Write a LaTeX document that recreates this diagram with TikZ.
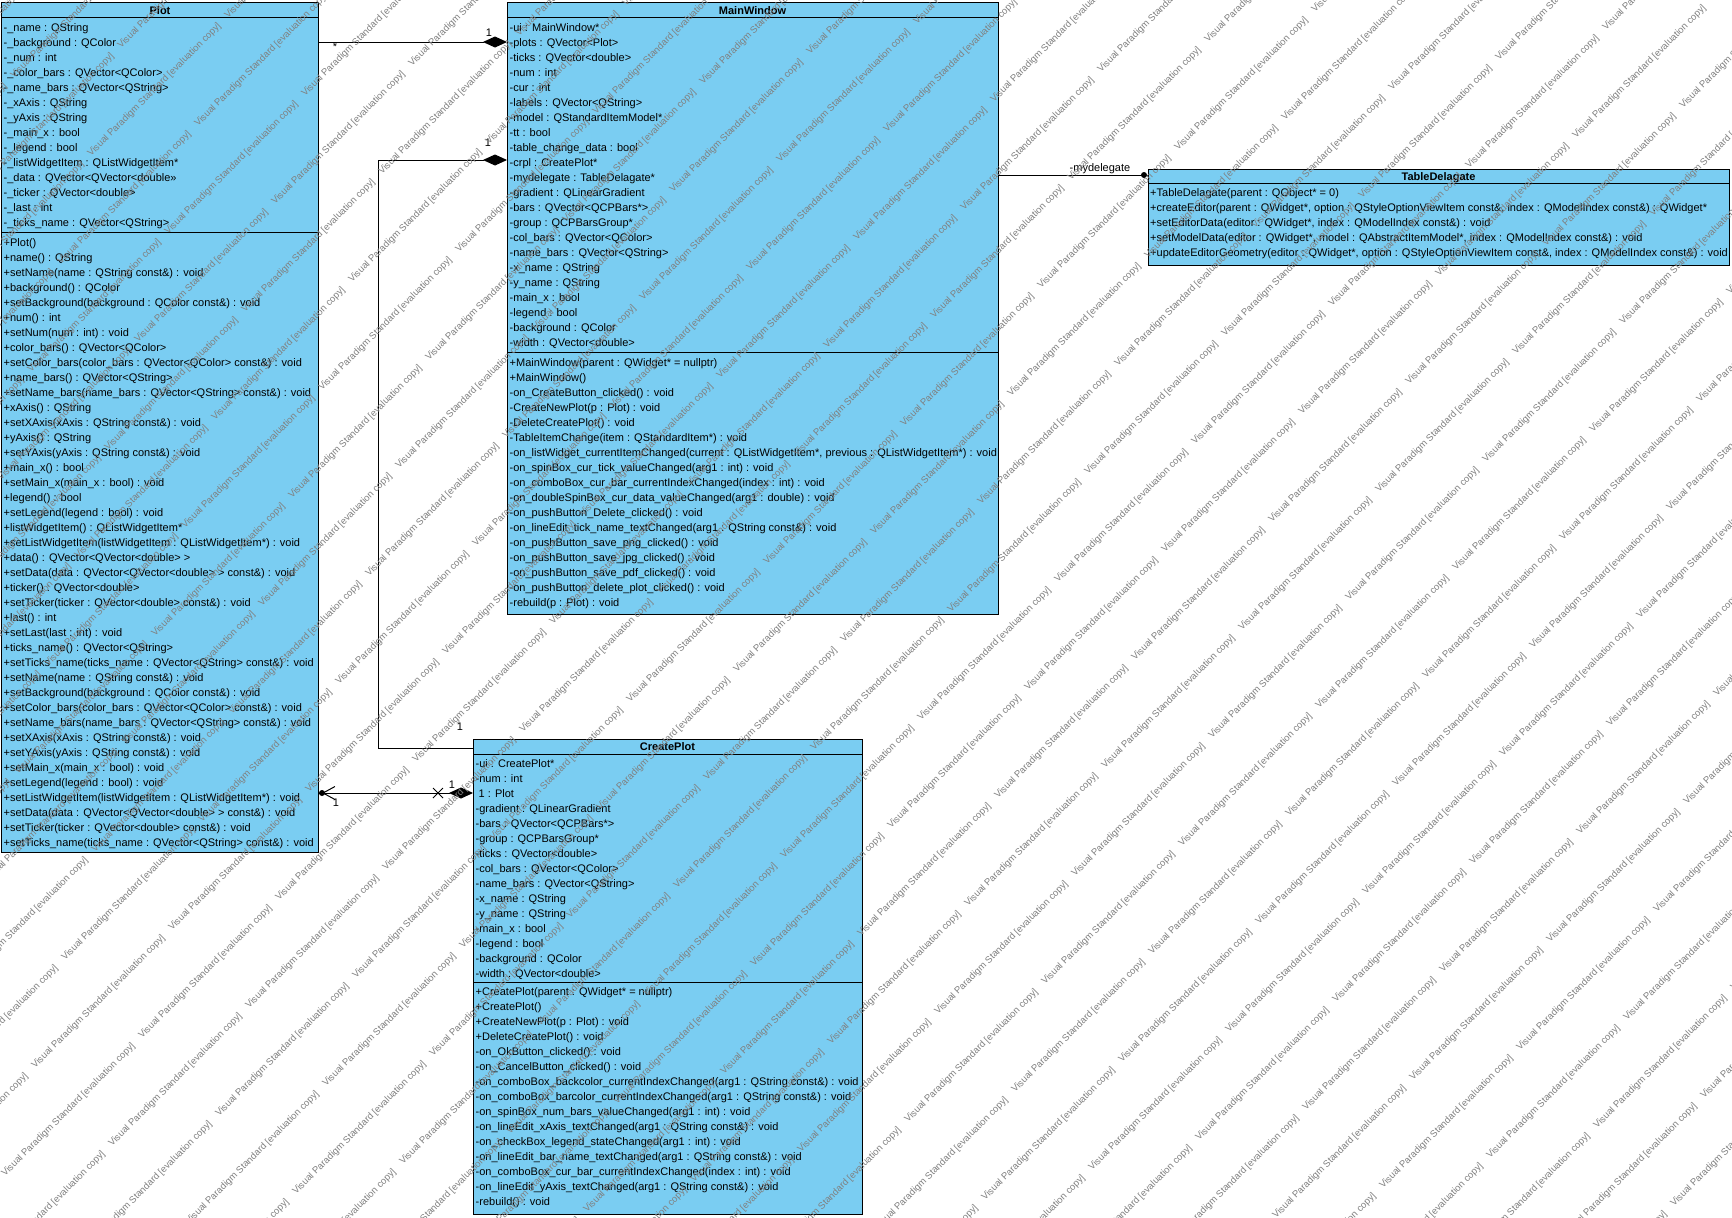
\documentclass[tikz,border=0pt]{standalone}
\usepackage{fontspec}
\setmainfont{Liberation Sans}
\usetikzlibrary{arrows.meta}
\definecolor{classfill}{RGB}{122,205,242}

% one text row per list item, 15 units apart, starting at baseline y0
\newcommand{\classrows}[4]{%
  \foreach \t [count=\k from 0] in {#4}
    \node[row] (#1-\k) at (#2,{#3+15*\k}) {\t};}

\begin{document}
\begin{tikzpicture}[x=1pt,y=-1pt,
  classbox/.style={draw=black, fill=classfill, line width=1pt, inner sep=0pt, outer sep=0pt, anchor=north west},
  row/.style={anchor=base west, inner sep=0pt, font=\fontsize{11}{13}\selectfont},
  classtitle/.style={anchor=base, inner sep=0pt, font=\fontsize{11}{13}\selectfont\bfseries},
  sepline/.style={line width=1pt},
  link/.style={line width=1pt},
  mult/.style={inner sep=0pt, font=\fontsize{11}{13}\selectfont},
  wm/.style={anchor=base west, inner sep=0pt, rotate=45, text=black!50, font=\fontsize{9.5}{10}\selectfont},
  comp/.style={line width=1pt}]

\useasboundingbox (0,0) rectangle (1732,1218);
\fill[white] (0,0) rectangle (1732,1218);

% ---------------- Plot ----------------
\node[classbox, minimum width=317pt, minimum height=850pt] (plot) at (1,2) {};
\node[classtitle] (plot-title) at (160,14) {Plot};
\draw[sepline] (1,17) -- (318,17);
\draw[sepline] (1,232) -- (318,232);
\classrows{plotA}{3.5}{31}{
 {-\_name : QString},
 {-\_background : QColor},
 {-\_num : int},
 {-\_color\_bars : QVector<QColor>},
 {-\_name\_bars : QVector<QString>},
 {-\_xAxis : QString},
 {-\_yAxis : QString},
 {-\_main\_x : bool},
 {-\_legend : bool},
 {-\_listWidgetItem : QListWidgetItem*},
 {-\_data : QVector<QVector<double>>},
 {-\_ticker : QVector<double>},
 {-\_last : int},
 {-\_ticks\_name : QVector<QString>}}
\classrows{plotM}{3.5}{246}{
 {+Plot()},
 {+name() : QString},
 {+setName(name : QString const\&) : void},
 {+background() : QColor},
 {+setBackground(background : QColor const\&) : void},
 {+num() : int},
 {+setNum(num : int) : void},
 {+color\_bars() : QVector<QColor>},
 {+setColor\_bars(color\_bars : QVector<QColor> const\&) : void},
 {+name\_bars() : QVector<QString>},
 {+setName\_bars(name\_bars : QVector<QString> const\&) : void},
 {+xAxis() : QString},
 {+setXAxis(xAxis : QString const\&) : void},
 {+yAxis() : QString},
 {+setYAxis(yAxis : QString const\&) : void},
 {+main\_x() : bool},
 {+setMain\_x(main\_x : bool) : void},
 {+legend() : bool},
 {+setLegend(legend : bool) : void},
 {+listWidgetItem() : QListWidgetItem*},
 {+setListWidgetItem(listWidgetItem : QListWidgetItem*) : void},
 {+data() : QVector<QVector<double> >},
 {+setData(data : QVector<QVector<double> > const\&) : void},
 {+ticker() : QVector<double>},
 {+setTicker(ticker : QVector<double> const\&) : void},
 {+last() : int},
 {+setLast(last : int) : void},
 {+ticks\_name() : QVector<QString>},
 {+setTicks\_name(ticks\_name : QVector<QString> const\&) : void},
 {+setName(name : QString const\&) : void},
 {+setBackground(background : QColor const\&) : void},
 {+setColor\_bars(color\_bars : QVector<QColor> const\&) : void},
 {+setName\_bars(name\_bars : QVector<QString> const\&) : void},
 {+setXAxis(xAxis : QString const\&) : void},
 {+setYAxis(yAxis : QString const\&) : void},
 {+setMain\_x(main\_x : bool) : void},
 {+setLegend(legend : bool) : void},
 {+setListWidgetItem(listWidgetItem : QListWidgetItem*) : void},
 {+setData(data : QVector<QVector<double> > const\&) : void},
 {+setTicker(ticker : QVector<double> const\&) : void},
 {+setTicks\_name(ticks\_name : QVector<QString> const\&) : void}}

% ---------------- MainWindow ----------------
\node[classbox, minimum width=491pt, minimum height=612pt] (mw) at (507,2) {};
\node[classtitle] (mw-title) at (752.5,14) {MainWindow};
\draw[sepline] (507,17) -- (998,17);
\draw[sepline] (507,352) -- (998,352);
\classrows{mwA}{509.5}{31}{
 {-ui : MainWindow*},
 {-plots : QVector<Plot>},
 {-ticks : QVector<double>},
 {-num : int},
 {-cur : int},
 {-labels : QVector<QString>},
 {-model : QStandardItemModel*},
 {-tt : bool},
 {-table\_change\_data : bool},
 {-crpl : CreatePlot*},
 {-mydelegate : TableDelagate*},
 {-gradient : QLinearGradient},
 {-bars : QVector<QCPBars*>},
 {-group : QCPBarsGroup*},
 {-col\_bars : QVector<QColor>},
 {-name\_bars : QVector<QString>},
 {-x\_name : QString},
 {-y\_name : QString},
 {-main\_x : bool},
 {-legend : bool},
 {-background : QColor},
 {-width : QVector<double>}}
\classrows{mwM}{509.5}{366}{
 {+MainWindow(parent : QWidget* = nullptr)},
 {+MainWindow()},
 {-on\_CreateButton\_clicked() : void},
 {-CreateNewPlot(p : Plot) : void},
 {-DeleteCreatePlot() : void},
 {-TableItemChange(item : QStandardItem*) : void},
 {-on\_listWidget\_currentItemChanged(current : QListWidgetItem*, previous : QListWidgetItem*) : void},
 {-on\_spinBox\_cur\_tick\_valueChanged(arg1 : int) : void},
 {-on\_comboBox\_cur\_bar\_currentIndexChanged(index : int) : void},
 {-on\_doubleSpinBox\_cur\_data\_valueChanged(arg1 : double) : void},
 {-on\_pushButton\_Delete\_clicked() : void},
 {-on\_lineEdit\_tick\_name\_textChanged(arg1 : QString const\&) : void},
 {-on\_pushButton\_save\_png\_clicked() : void},
 {-on\_pushButton\_save\_jpg\_clicked() : void},
 {-on\_pushButton\_save\_pdf\_clicked() : void},
 {-on\_pushButton\_delete\_plot\_clicked() : void},
 {-rebuild(p : Plot) : void}}

% ---------------- TableDelagate ----------------
\node[classbox, minimum width=581pt, minimum height=96pt] (td) at (1148,169) {};
\node[classtitle] (td-title) at (1438.5,180) {TableDelagate};
\draw[sepline] (1148,183) -- (1729,183);
\classrows{tdM}{1150}{196}{
 {+TableDelagate(parent : QObject* = 0)},
 {+createEditor(parent : QWidget*, option : QStyleOptionViewItem const\&, index : QModelIndex const\&) : QWidget*},
 {+setEditorData(editor : QWidget*, index : QModelIndex const\&) : void},
 {+setModelData(editor : QWidget*, model : QAbstractItemModel*, index : QModelIndex const\&) : void},
 {+updateEditorGeometry(editor : QWidget*, option : QStyleOptionViewItem const\&, index : QModelIndex const\&) : void}}

% ---------------- CreatePlot ----------------
\node[classbox, minimum width=389pt, minimum height=475pt] (cp) at (473,739) {};
\node[classtitle] (cp-title) at (667.5,750) {CreatePlot};
\draw[sepline] (473,754) -- (862,754);
\draw[sepline] (473,982.5) -- (862,982.5);
\classrows{cpA}{475.5}{767}{
 {-ui : CreatePlot*},
 {-num : int},
 {\hspace{3pt}1 : Plot},
 {-gradient : QLinearGradient},
 {-bars : QVector<QCPBars*>},
 {-group : QCPBarsGroup*},
 {-ticks : QVector<double>},
 {-col\_bars : QVector<QColor>},
 {-name\_bars : QVector<QString>},
 {-x\_name : QString},
 {-y\_name : QString},
 {-main\_x : bool},
 {-legend : bool},
 {-background : QColor},
 {-width : QVector<double>}}
\classrows{cpM}{475.5}{995.5}{
 {+CreatePlot(parent : QWidget* = nullptr)},
 {+CreatePlot()},
 {+CreateNewPlot(p : Plot) : void},
 {+DeleteCreatePlot() : void},
 {-on\_OkButton\_clicked() : void},
 {-on\_CancelButton\_clicked() : void},
 {-on\_comboBox\_backcolor\_currentIndexChanged(arg1 : QString const\&) : void},
 {-on\_comboBox\_barcolor\_currentIndexChanged(arg1 : QString const\&) : void},
 {-on\_spinBox\_num\_bars\_valueChanged(arg1 : int) : void},
 {-on\_lineEdit\_xAxis\_textChanged(arg1 : QString const\&) : void},
 {-on\_checkBox\_legend\_stateChanged(arg1 : int) : void},
 {-on\_lineEdit\_bar\_name\_textChanged(arg1 : QString const\&) : void},
 {-on\_comboBox\_cur\_bar\_currentIndexChanged(index : int) : void},
 {-on\_lineEdit\_yAxis\_textChanged(arg1 : QString const\&) : void},
 {-rebuild() : void}}

% ---------------- connectors ----------------
% Plot -- MainWindow (plots)
\coordinate (yPlots) at (0,42);
\draw[link, -{Diamond[length=24pt,width=11pt]}] (plot.east |- yPlots) -- (mw.west |- yPlots);
\node[mult] (mPlots1) at (489,33) {1};
\node[mult] (mPlots2) at (335,47) {*};

% MainWindow -- CreatePlot (crpl)
\coordinate (yCrpl) at (0,160);
\coordinate (bendA) at (378,160);
\coordinate (bendB) at (378,748);
\draw[link, {Diamond[length=24pt,width=11pt]}-] (mw.west |- yCrpl) -- (bendA) -- (bendB) -- (cp.west |- bendB);
\node[mult] (mCrpl1) at (488,143) {1};
\node[mult] (mCrpl2) at (460,727) {1};

% CreatePlot -- Plot
\coordinate (yOwn) at (0,793);
\draw[link, {Diamond[length=24pt,width=11pt]}-] (cp.west |- yOwn) -- (plot.east |- yOwn);
\draw[link] (433,788) -- (443,798) (433,798) -- (443,788);
\fill ([xshift=4pt]plot.east |- yOwn) circle (3pt);
\draw[link] (335,786.5) -- (323,793) -- (335,799.5);
\node[mult] (mOwn1) at (452,785) {1};
\node[mult] (mOwn2) at (336,803) {1};

% MainWindow -- TableDelagate (mydelegate)
\coordinate (yDel) at (0,175);
\draw[link] (mw.east |- yDel) -- (td.west |- yDel);
\fill ([xshift=-4pt]td.west |- yDel) circle (3pt);
\node[mult, anchor=base] (mDel) at (1100,171) {-mydelegate};

% ---------------- evaluation stamp ----------------
\begin{scope}
\clip (0,0) rectangle (1732,1218);
\foreach \i in {-11,...,14}{
  \foreach \j in {-16,...,5}{
    \node[wm] (wm\i x\j) at ({780+107*\i+30*\j},{163-30*\i-108*\j}) {Visual Paradigm Standard [evaluation copy]};
  }}
\end{scope}
\end{tikzpicture}
\end{document}
